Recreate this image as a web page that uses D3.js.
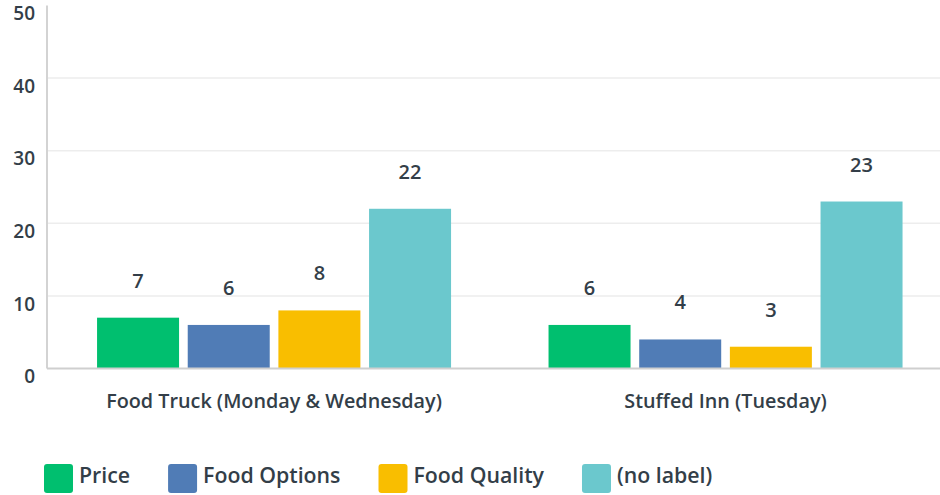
<!DOCTYPE html>
<html><head><meta charset="utf-8">
<script src="https://cdn.jsdelivr.net/npm/d3@7/dist/d3.min.js"></script>
<style>
body{margin:0;background:#fff;}
svg text{font-family:"Open Sans","Noto Sans",sans-serif;fill:#333e48;}
</style></head>
<body><svg id="c" width="940" height="495"></svg>
<script>
const categories = ["Food Truck (Monday & Wednesday)", "Stuffed Inn (Tuesday)"];
const seriesNames = ["Price", "Food Options", "Food Quality", "(no label)"];
const price = [7, 6];
const foodOptions = [6, 4];
const foodQuality = [8, 3];
const noLabel = [22, 23];
const yTicks = [0, 10, 20, 30, 40, 50];
const colors = ["#00bf6f", "#507cb6", "#f9be00", "#6bc8cd"];

const seriesValues = [price, foodOptions, foodQuality, noLabel];
const svg = d3.select("#c");

const y = d3.scaleLinear().domain([0, 50]).range([368.5, 5.5]);
const x0 = d3.scaleBand().domain(categories).range([48.3, 951.3]).paddingInner(0.2159).paddingOuter(0.108);
const x1 = d3.scaleBand().domain(seriesNames).range([0, x0.bandwidth()]).paddingInner(0.0956).paddingOuter(0);

// gridlines
svg.append("g").selectAll("line").data(yTicks.filter(t => t > 0 && t < 50)).join("line")
  .attr("x1", 47).attr("x2", 940).attr("y1", d => y(d)).attr("y2", d => y(d))
  .attr("stroke", "#ededed").attr("stroke-width", 1.5);

// y axis line
svg.append("line").attr("x1", 47).attr("x2", 47).attr("y1", y(50)).attr("y2", y(0))
  .attr("stroke", "#d3d3d3").attr("stroke-width", 2);

// y labels
svg.append("g").selectAll("text").data(yTicks).join("text")
  .attr("x", 35).attr("y", d => y(d) + 8).attr("dy", "0.35em")
  .attr("text-anchor", "end").attr("font-size", 19).attr("font-weight", 600)
  .text(d => d);

// bars
categories.forEach((cat, ci) => {
  const g = svg.append("g").attr("transform", `translate(${x0(cat)},0)`);
  seriesNames.forEach((s, si) => {
    const v = seriesValues[si][ci];
    g.append("rect").attr("x", x1(s)).attr("y", y(v)).attr("width", x1.bandwidth())
      .attr("height", y(0) - y(v)).attr("fill", colors[si]);
    g.append("text").attr("x", x1(s) + x1.bandwidth() / 2).attr("y", y(v) - 30)
      .attr("text-anchor", "middle").attr("font-size", 20).attr("font-weight", 600).text(v);
  });
});

// baseline
svg.append("line").attr("x1", 47).attr("x2", 940).attr("y1", y(0)).attr("y2", y(0))
  .attr("stroke", "#cfcfcf").attr("stroke-width", 2);

// category labels
svg.append("g").selectAll("text").data(categories).join("text")
  .attr("x", d => x0(d) + x0.bandwidth() / 2).attr("y", 408)
  .attr("text-anchor", "middle").attr("font-size", 19.8).attr("font-weight", 600).text(d => d);

// legend
const leg = svg.append("g");
let lx = 44;
seriesNames.forEach((s, i) => {
  leg.append("rect").attr("x", lx).attr("y", 464).attr("width", 29).attr("height", 29)
    .attr("rx", 3).attr("fill", colors[i]);
  const t = leg.append("text").attr("x", lx + 35).attr("y", 483)
    .attr("font-size", 21.3).attr("font-weight", 600).text(s);
  lx += 35 + t.node().getComputedTextLength() + 38;
});
</script></body></html>
